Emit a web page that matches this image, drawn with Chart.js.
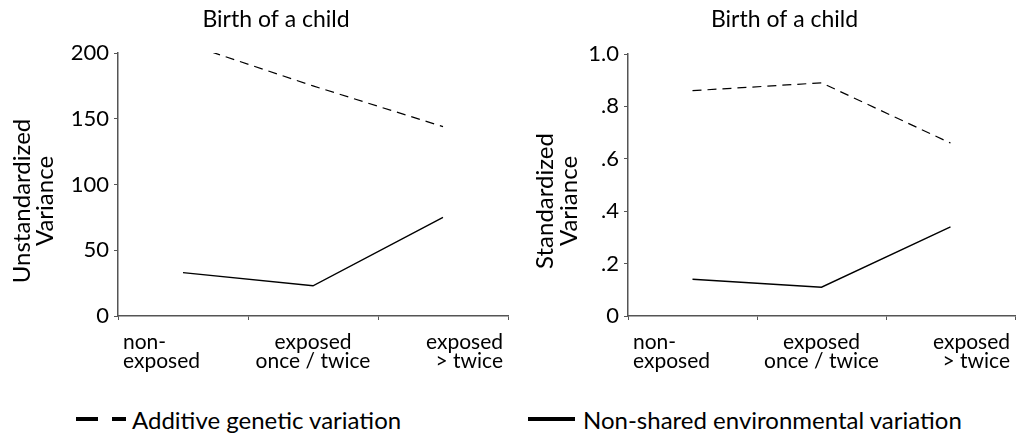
<!DOCTYPE html>
<html>
<head>
<meta charset="utf-8">
<script src="https://cdn.jsdelivr.net/npm/chart.js@4.4.1/dist/chart.umd.min.js"></script>
<style>
  body { margin: 0; background: #fff; }
  #wrap { position: relative; width: 1021px; height: 435px; font-family: Lato, sans-serif; overflow: hidden; }
  #left { position: absolute; left: 0; top: 0; }
  #right { position: absolute; left: 510px; top: 0; }
  .leg { position: absolute; top: 408px; height: 24px; line-height: 24px; font-size: 24px; color: #000; white-space: nowrap; display: flex; align-items: center; }
  .dash { display: inline-block; height: 4px; background: #000; margin-top: -2px; }
</style>
</head>
<body>
<div id="wrap">
  <canvas id="left" width="510" height="380"></canvas>
  <canvas id="right" width="511" height="380"></canvas>
  <div class="leg" style="left:76px">
    <span class="dash" style="width:22px"></span>
    <span class="dash" style="width:14px;margin-left:14px"></span>
    <span style="margin-left:6px">Additive genetic variation</span>
  </div>
  <div class="leg" style="left:528px">
    <span class="dash" style="width:47px"></span>
    <span style="margin-left:8px">Non-shared environmental variation</span>
  </div>
</div>
<script>
// exposure groups
const categories = [['non-', 'exposed'], ['exposed', 'once / twice'], ['exposed', '> twice']];
const labelAlign = ['left', 'center', 'right'];
const panelTitle = 'Birth of a child';

// unstandardized variance
const additiveRaw = [208, 175, 144];
const nonSharedRaw = [33, 23, 75];

// standardized variance
const additiveStd = [0.86, 0.89, 0.66];
const nonSharedStd = [0.14, 0.11, 0.34];

const FONT = 'Lato, sans-serif';

// title, rotated y title and hand-aligned category labels
const decorations = {
  id: 'decorations',
  afterDraw(chart, args, opts) {
    const ctx = chart.ctx;
    const area = chart.chartArea;
    const xs = chart.scales.x;
    ctx.save();
    ctx.fillStyle = '#000';
    ctx.textBaseline = 'alphabetic';

    ctx.font = '23px ' + FONT;
    ctx.textAlign = 'center';
    ctx.fillText(panelTitle, (area.left + area.right) / 2 - 37, 27);

    ctx.font = '21px ' + FONT;
    const half = (xs.getPixelForValue(1) - xs.getPixelForValue(0)) / 2;
    categories.forEach((lines, i) => {
      const px = xs.getPixelForValue(i);
      let x = px;
      if (labelAlign[i] === 'left') x = px - half + 5;
      if (labelAlign[i] === 'right') x = px + half - 5;
      ctx.textAlign = labelAlign[i];
      lines.forEach((t, j) => ctx.fillText(t, x, area.bottom + 33 + j * 19));
    });

    // rotated axis title, baselines given in canvas x
    ctx.translate(0, 201);
    ctx.rotate(-Math.PI / 2);
    ctx.font = '24px ' + FONT;
    ctx.textAlign = 'center';
    opts.yTitle.forEach((t, j) => ctx.fillText(t, 0, opts.titleX[j]));
    ctx.restore();
  }
};

function makeChart(id, additive, nonShared, yMax, step, fmt, pad, yTitle, titleX) {
  return new Chart(document.getElementById(id), {
    type: 'line',
    data: {
      labels: categories.map(c => c.join(' ')),
      datasets: [
        {
          label: 'Additive genetic variation',
          data: additive,
          borderColor: '#000',
          borderWidth: 1.2,
          borderDash: [9, 6],
          pointRadius: 0,
          fill: false
        },
        {
          label: 'Non-shared environmental variation',
          data: nonShared,
          borderColor: '#000',
          borderWidth: 1.4,
          pointRadius: 0,
          fill: false
        }
      ]
    },
    options: {
      responsive: false,
      animation: false,
      layout: { padding: pad },
      plugins: {
        legend: { display: false },
        tooltip: { enabled: false },
        decorations: { yTitle: yTitle, titleX: titleX }
      },
      scales: {
        x: {
          offset: true,
          grid: { offset: true, drawOnChartArea: false, drawTicks: true, tickLength: 4, color: '#555' },
          border: { color: '#555', width: 1.5 },
          ticks: { display: false },
          afterFit(scale) { scale.height = 64; }
        },
        y: {
          min: 0,
          max: yMax,
          grid: { drawOnChartArea: false, drawTicks: true, tickLength: 4, color: '#555' },
          border: { color: '#555', width: 1.5 },
          ticks: {
            stepSize: step,
            padding: 5,
            color: '#000',
            font: { family: FONT, size: 22 },
            callback: fmt
          },
          afterFit(scale) { scale.width = 118 - pad.left; }
        }
      }
    },
    plugins: [decorations]
  });
}

makeChart('left', additiveRaw, nonSharedRaw, 200, 50, v => String(v),
  { left: 0, right: 2, top: 53, bottom: 0 }, ['Unstandardized', 'Variance'], [30, 53]);

makeChart('right', additiveStd, nonSharedStd, 1, 0.2,
  v => (v === 0 ? '0' : v === 1 ? '1.0' : v.toFixed(1).replace(/^0/, '')),
  { left: 0, right: 6, top: 54, bottom: 0 }, ['Standardized', 'Variance'], [43, 67]);
</script>
</body>
</html>
